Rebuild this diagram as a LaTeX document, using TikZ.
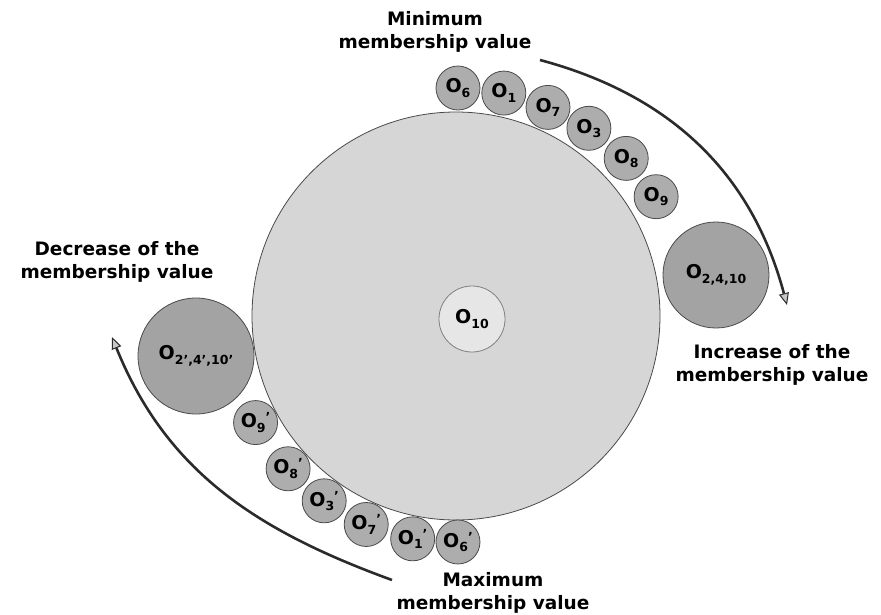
\documentclass[tikz,border=0pt]{standalone}
\usepackage{fontspec}
\setmainfont{DejaVu Sans}
\usepackage{tikz}
\usetikzlibrary{arrows.meta}
\definecolor{diskgray}{HTML}{D6D6D6}
\definecolor{ballgray}{HTML}{ADADAD}
\definecolor{bigballgray}{HTML}{A3A3A3}
\definecolor{coregray}{HTML}{E6E6E6}
\definecolor{rimgray}{HTML}{4A4A4A}
\definecolor{arcgray}{HTML}{2B2B2B}
\newcommand{\subsz}{\fontsize{12.5}{12.5}\selectfont}
\newcommand{\obj}[2][]{O\raisebox{-4.5pt}{\subsz#2}\raisebox{6pt}{\subsz#1}}

\begin{document}
\begin{tikzpicture}[
    x=1pt, y=1pt,
    disk/.style={circle, draw=rimgray, line width=0.8pt, fill=diskgray,
                 inner sep=0pt, minimum size=408pt},
    ball/.style={circle, draw=rimgray, line width=0.8pt, fill=ballgray,
                 inner sep=0pt, minimum size=44pt,
                 font=\fontsize{19}{19}\selectfont\bfseries},
    bigball/.style={ball, fill=bigballgray},
    core/.style={ball, fill=coregray, draw=gray, minimum size=66pt},
    caption/.style={align=center, font=\fontsize{18.5}{23}\selectfont\bfseries},
    sweep/.style={line width=2.6pt, draw=arcgray,
                  -{Triangle[length=12pt, width=10pt, line width=1pt, fill=gray!45]}}
]
    \useasboundingbox (0,0) rectangle (881,-615);

    \node[disk] (disk) at (456,-316) {};
    \node[core] (o10) at (472,-319) {\obj{10}};

    % top row, tangent to the disk
    \node[ball] (o6) at ([shift={(89.5:228)}]disk.center) {\obj{6}};
    \node[ball] (o1) at ([shift={(77.9:228)}]disk.center) {\obj{1}};
    \node[ball] (o7) at ([shift={(66.2:228)}]disk.center) {\obj{7}};
    \node[ball] (o3) at ([shift={(54.7:230)}]disk.center) {\obj{3}};
    \node[ball] (o8) at ([shift={(42.8:232)}]disk.center) {\obj{8}};
    \node[ball] (o9) at ([shift={(30.8:233)}]disk.center) {\obj{9}};
    \node[bigball, minimum size=106pt] (oright) at (716,-275) {\obj{2,4,10}};

    % bottom row, primed objects
    \node[ball] (o9p) at ([shift={(208:227)}]disk.center) {\obj[']{9}};
    \node[ball] (o8p) at ([shift={(222.3:227)}]disk.center) {\obj[']{8}};
    \node[ball] (o3p) at ([shift={(234.5:227)}]disk.center) {\obj[']{3}};
    \node[ball] (o7p) at ([shift={(246.7:227)}]disk.center) {\obj[']{7}};
    \node[ball] (o1p) at ([shift={(259:227)}]disk.center) {\obj[']{1}};
    \node[ball] (o6p) at ([shift={(270.5:226)}]disk.center) {\obj[']{6}};
    \node[bigball, minimum size=116pt] (oleft) at (196,-356) {\obj{2',4',10'}};

    \node[caption] (minlbl) at (435,-32) {Minimum\\membership value};
    \node[caption] (declbl) at (117,-262) {Decrease of the\\membership value};
    \node[caption] (inclbl) at (772,-365) {Increase of the\\membership value};
    \node[caption] (maxlbl) at (493,-593) {Maximum\\membership value};

    \coordinate (incstart) at (540,-60);
    \coordinate (incend) at (787,-305);
    \coordinate (decstart) at (392,-580);
    \coordinate (decend) at (112,-337);
    \draw[sweep] (incstart) to[out=-15, in=105] (incend);
    \draw[sweep] (decstart) to[out=160, in=-68] (decend);
\end{tikzpicture}
\end{document}
